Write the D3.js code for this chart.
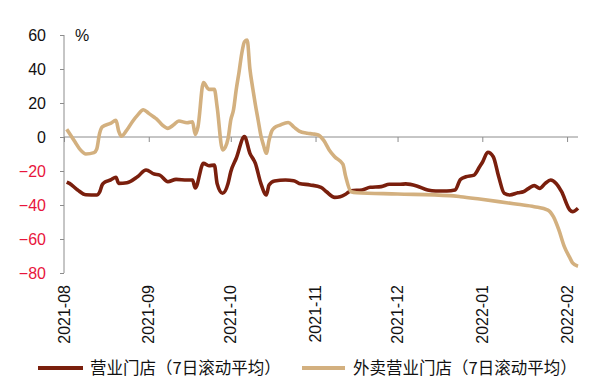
<!DOCTYPE html>
<html><head><meta charset="utf-8">
<script src="https://cdn.jsdelivr.net/npm/d3@7/dist/d3.min.js"></script>
<style>
html,body{margin:0;padding:0;background:#fff;}
svg{display:block;font-family:"Liberation Sans",Arial,sans-serif;}
</style></head>
<body><svg id="c" width="591" height="380"></svg>
<script>
// ---- data ----
const storeDates = ["2021-08-02","2021-08-03","2021-08-06","2021-08-09","2021-08-13","2021-08-14","2021-08-15","2021-08-16","2021-08-18","2021-08-20","2021-08-21","2021-08-24","2021-08-28","2021-08-31",
"2021-09-03","2021-09-05","2021-09-08","2021-09-11","2021-09-15","2021-09-17","2021-09-18","2021-09-21","2021-09-23","2021-09-25","2021-09-26","2021-09-28","2021-09-30",
"2021-10-01","2021-10-03","2021-10-06","2021-10-08","2021-10-10","2021-10-12","2021-10-14","2021-10-15","2021-10-17","2021-10-21","2021-10-24","2021-10-26","2021-10-30",
"2021-11-03","2021-11-05","2021-11-08","2021-11-10","2021-11-12","2021-11-14","2021-11-18","2021-11-21","2021-11-25","2021-11-28",
"2021-12-02","2021-12-04","2021-12-08","2021-12-12","2021-12-15","2021-12-19","2021-12-22","2021-12-24","2021-12-26","2021-12-29","2021-12-31",
"2022-01-01","2022-01-03","2022-01-05","2022-01-07","2022-01-09","2022-01-11","2022-01-14","2022-01-16","2022-01-18","2022-01-20","2022-01-22","2022-01-24","2022-01-26","2022-01-28","2022-01-30",
"2022-02-02","2022-02-03","2022-02-05"];
const storeValues = [-26.5,-27.3,-31.2,-34,-34.1,-32.5,-28,-26.5,-25.3,-23.7,-27.3,-26.9,-23.2,-19.4,
-21.8,-22.4,-26.3,-24.9,-25.3,-25.3,-30,-15.5,-16.9,-16.5,-27.3,-33.1,-27.3,
-20.4,-12.5,0.2,-9.6,-15.5,-27.3,-34.1,-28.2,-25.9,-25.3,-25.7,-27.3,-28.2,
-29.6,-32.2,-35.5,-35.1,-33.7,-31.6,-31.2,-29.6,-29.2,-27.8,
-27.8,-27.6,-28.8,-31.2,-31.8,-31.8,-31.2,-25,-23.4,-22.4,-17.5,
-15,-9,-11.6,-23.4,-33.1,-34.1,-32.8,-32.2,-30.2,-28.6,-30.2,-27.3,-25.3,-27.3,-32.2,
-42.9,-43.9,-41.9];

const takeawayDates = ["2021-08-02","2021-08-05","2021-08-07","2021-08-09","2021-08-12","2021-08-13","2021-08-14","2021-08-15","2021-08-18","2021-08-20","2021-08-21","2021-08-22","2021-08-24","2021-08-26","2021-08-28","2021-08-30",
"2021-09-01","2021-09-03","2021-09-04","2021-09-06","2021-09-08","2021-09-10","2021-09-12","2021-09-15","2021-09-17","2021-09-18","2021-09-19","2021-09-21","2021-09-23","2021-09-25","2021-09-26","2021-09-28","2021-09-29","2021-09-30",
"2021-10-01","2021-10-02","2021-10-03","2021-10-04","2021-10-05","2021-10-06","2021-10-07","2021-10-08","2021-10-09","2021-10-10","2021-10-11","2021-10-12","2021-10-13","2021-10-14","2021-10-15","2021-10-16","2021-10-17","2021-10-19","2021-10-22","2021-10-24","2021-10-26","2021-10-29","2021-10-31",
"2021-11-02","2021-11-04","2021-11-06","2021-11-08","2021-11-11","2021-11-12","2021-11-14","2021-11-16",
"2021-12-01","2021-12-20","2021-12-24","2021-12-31",
"2022-01-07","2022-01-14","2022-01-20","2022-01-25","2022-01-27","2022-01-29","2022-01-31","2022-02-02","2022-02-03","2022-02-05"];
const takeawayValues = [4.5,-2.8,-7.6,-10,-9.2,-7,2,6,8,9.8,3.5,0.5,4.1,9,13,16,
13.9,11.6,10.4,7,5.1,7,9.4,8.4,9,1.5,6,32,28,28,17.8,-7.6,-6,-1,
10,16,28,38,49,56,57,40,29,19,10,1,-5,-9.6,-2,3.5,5.5,7,8.5,6,3.5,2.2,1.8,
1.2,-2,-7.6,-11.6,-16,-23,-32.2,-32.8,
-33.5,-34.5,-35.1,-36.5,
-38,-39.6,-41,-43,-46.9,-54.7,-64.5,-71,-74,-76];

const xTickLabels = ["2021-08","2021-09","2021-10","2021-11","2021-12","2022-01","2022-02"];
const yTicks = [-80,-60,-40,-20,0,20,40,60];
const seriesNames = ["营业门店（7日滚动平均）","外卖营业门店（7日滚动平均）"];
const unitLabel = "%";

// ---- chart ----
const parse = d3.timeParse("%Y-%m-%d");
const parseM = d3.timeParse("%Y-%m");
const svg = d3.select("#c");
const x = d3.scaleTime().domain([parse("2021-08-01"), parse("2022-02-05")]).range([64, 578]);
const y = d3.scaleLinear().domain([-80, 60]).range([273, 35]);

const colDark = "#7a1f0d", colLight = "#d3b07f";
const axisCol = "#8c8c8c";

// y axis
const yAxis = svg.append("g").attr("transform","translate(64,0)")
  .call(d3.axisLeft(y).tickValues(yTicks).tickSize(4).tickPadding(14).tickFormat(d3.format("d")));
yAxis.select(".domain").attr("stroke",axisCol).attr("d","M0,"+y(-80)+"V"+y(60));
yAxis.selectAll(".tick line").attr("stroke",axisCol);
yAxis.selectAll(".tick text").attr("font-size",16).attr("font-family","Liberation Sans, Arial, sans-serif")
  .attr("fill", d => d < 0 ? "#e8163c" : "#111");

// x axis at y=0
const xAxis = svg.append("g").attr("transform","translate(0,"+y(0)+")")
  .call(d3.axisBottom(x).tickValues(xTickLabels.map(parseM)).tickSize(5).tickFormat(""));
xAxis.select(".domain").attr("stroke",axisCol).attr("d","M64,0H578");
xAxis.selectAll(".tick line").attr("stroke",axisCol);

// x labels rotated
svg.append("g").selectAll("text").data(xTickLabels).join("text")
  .attr("transform", d => "translate("+x(parseM(d))+",285) rotate(-90)")
  .attr("text-anchor","end").attr("dy","0.35em")
  .attr("font-size",16).attr("fill","#111").text(d => d);

svg.append("text").attr("x",75).attr("y",41).attr("font-size",16).attr("fill","#111").text(unitLabel);

const line = d3.line().x(d => x(d[0])).y(d => y(d[1])).curve(d3.curveMonotoneX);
const s1 = storeDates.map((d,i) => [parse(d), storeValues[i]]);
const s2 = takeawayDates.map((d,i) => [parse(d), takeawayValues[i]]);
svg.append("path").datum(s1).attr("d",line).attr("fill","none").attr("stroke",colDark).attr("stroke-width",3.6).attr("stroke-linejoin","round");
svg.append("path").datum(s2).attr("d",line).attr("fill","none").attr("stroke",colLight).attr("stroke-width",3.6).attr("stroke-linejoin","round");

// legend
const leg = [{x1:38,x2:83,tx:90,c:colDark,t:seriesNames[0]},{x1:302,x2:345,tx:353,c:colLight,t:seriesNames[1]}];
const lg = svg.append("g");
leg.forEach(l => {
  lg.append("line").attr("x1",l.x1).attr("x2",l.x2).attr("y1",368).attr("y2",368).attr("stroke",l.c).attr("stroke-width",4);
  lg.append("text").attr("x",l.tx).attr("y",368).attr("dy","0.35em").attr("font-size",16.5)
    .attr("font-family","'Noto Sans CJK SC', sans-serif").attr("fill","#111").text(l.t);
});
</script></body></html>
